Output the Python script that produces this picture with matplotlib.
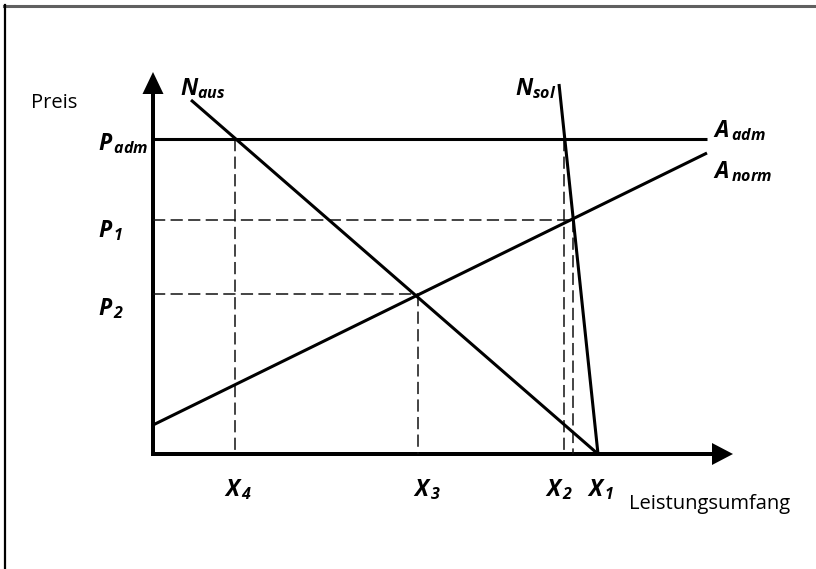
import matplotlib
matplotlib.use("Agg")
import matplotlib.pyplot as plt
from matplotlib.lines import Line2D

plt.rcParams['font.family'] = ['Open Sans', 'DejaVu Sans']
plt.rcParams['mathtext.fontset'] = 'custom'
plt.rcParams['mathtext.it'] = 'Open Sans:italic:bold'
plt.rcParams['mathtext.rm'] = 'Open Sans:italic:bold'
plt.rcParams['mathtext.bf'] = 'Open Sans:italic:bold'

# ---- data (abstract units, origin at axis crossing) ----
price_levels = {"P_adm": 315, "P_1": 234, "P_2": 160}
quantity_levels = {"X_4": 82, "X_3": 265, "X_2": 411, "X_2b": 420, "X_1": 445}
x_axis_end = 580
y_axis_end = 382

A_adm_x = [0, 554]
A_adm_y = [315, 315]
A_norm_x = [0, 554]
A_norm_y = [29, 301]
N_aus_x = [38, 445]
N_aus_y = [354, 0]
N_sol_x = [406, 445]
N_sol_y = [370, 0]

# dashed guide lines: (x0, x1, y0, y1)
h_guides = [(0, 420, 234, 234), (0, 265, 160, 160)]
v_guides = [(82, 82, 315, 0), (265, 265, 160, 0), (411, 411, 315, 0), (420, 420, 234, 0)]

price_labels = [r"$P_{\,adm}$", r"$P_{\,1}$", r"$P_{\,2}$"]
price_label_y = [304, 217, 139]
qty_labels = [r"$X_{\,4}$", r"$X_{\,3}$", r"$X_{\,2}$", r"$X_{\,1}$"]
qty_label_x = [71, 260, 392, 434]
curve_labels = [r"$N_{aus}$", r"$N_{sol}$", r"$A_{\,adm}$", r"$A_{\,norm}$"]
curve_label_pos = [(27, 359), (362, 359), (560, 317), (560, 276)]

fig = plt.figure(figsize=(8.16, 5.69), dpi=100)
ax = fig.add_axes([0, 0, 1, 1])
ax.set_xlim(-153, 663)
ax.set_ylim(-115, 454)
ax.axis('off')

# frame
fig.add_artist(Line2D([4/816, 1], [1-6/569, 1-6/569], transform=fig.transFigure,
                      color='#606060', lw=2.2))
fig.add_artist(Line2D([4.5/816, 4.5/816], [0, 1-5/569], transform=fig.transFigure,
                      color='black', lw=1.6))

lw_main = 2.2
dash = (0, (8, 3.5))
for x0, x1, y0, y1 in h_guides + v_guides:
    ax.plot([x0, x1], [y0, y1], color='#111111', lw=1.1, linestyle=dash)

ax.plot(A_adm_x, A_adm_y, color='black', lw=lw_main, solid_capstyle='butt')
ax.plot(A_norm_x, A_norm_y, color='black', lw=lw_main, solid_capstyle='butt')
ax.plot(N_aus_x, N_aus_y, color='black', lw=lw_main, solid_capstyle='butt')
ax.plot(N_sol_x, N_sol_y, color='black', lw=lw_main, solid_capstyle='butt')

# axes with arrows
ax.arrow(0, -2, 0, y_axis_end + 2, width=4, head_width=21, head_length=22,
         length_includes_head=True, fc='black', ec='none')
ax.arrow(-2, 0, x_axis_end + 2, 0, width=4, head_width=22, head_length=21,
         length_includes_head=True, fc='black', ec='none')

fs = 16.5
for lab, y in zip(price_labels, price_label_y):
    ax.text(-55, y, lab, fontsize=fs, ha='left', va='baseline')
for lab, x in zip(qty_labels, qty_label_x):
    ax.text(x, -42, lab, fontsize=fs, ha='left', va='baseline')
for lab, (x, y) in zip(curve_labels, curve_label_pos):
    ax.text(x, y, lab, fontsize=fs, ha='left', va='baseline')

ax.text(-99, 351, "Preis", fontsize=14.5, ha='center', va='center')
ax.text(476, -55, "Leistungsumfang", fontsize=14.5, ha='left', va='baseline')

fig.savefig("out.png", dpi=100)
